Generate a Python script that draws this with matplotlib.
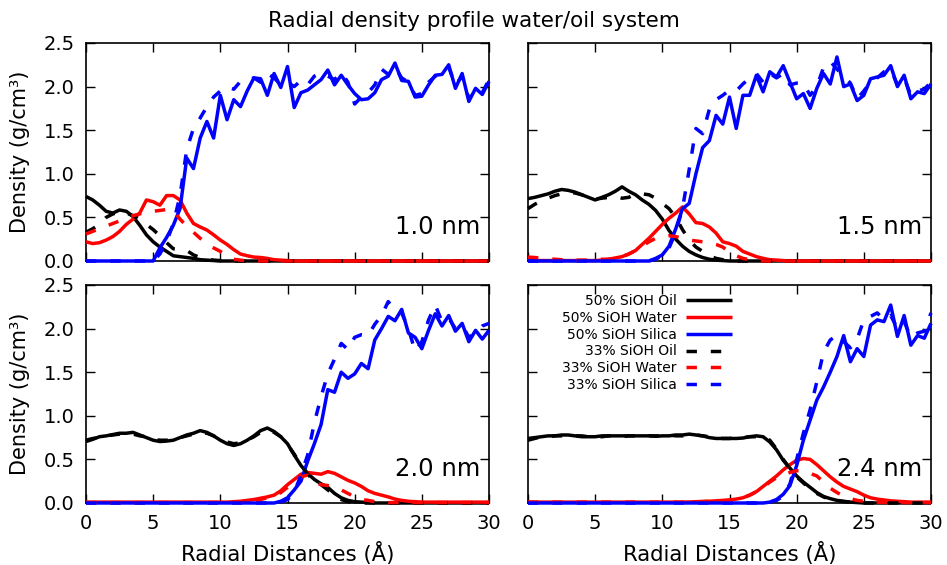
import numpy as np
import matplotlib
matplotlib.use("Agg")
import matplotlib.pyplot as plt

# Radial sampling grid (Å), 0.5 Å bins
radial = np.linspace(0.0, 30.0, 61)

# ---------------- 1.0 nm pore ----------------
oil50_10 = [0.74, 0.70, 0.64, 0.57, 0.55, 0.585, 0.57, 0.51, 0.41, 0.30,
            0.22, 0.16, 0.11, 0.06, 0.05, 0.04, 0.03, 0.015, 0.01, 0.005,
            0, 0, 0, 0, 0, 0, 0, 0, 0, 0,
            0, 0, 0, 0, 0, 0, 0, 0, 0, 0,
            0, 0, 0, 0, 0, 0, 0, 0, 0, 0,
            0, 0, 0, 0, 0, 0, 0, 0, 0, 0,
            0]
water50_10 = [0.22, 0.20, 0.21, 0.24, 0.28, 0.34, 0.42, 0.48, 0.55, 0.70,
              0.68, 0.64, 0.75, 0.75, 0.70, 0.55, 0.43, 0.39, 0.355, 0.30,
              0.24, 0.19, 0.13, 0.08, 0.06, 0.045, 0.04, 0.03, 0.015, 0.01,
              0.005, 0, 0, 0, 0, 0, 0, 0, 0, 0,
              0, 0, 0, 0, 0, 0, 0, 0, 0, 0,
              0, 0, 0, 0, 0, 0, 0, 0, 0, 0,
              0]
silica50_10 = [0, 0, 0, 0, 0, 0, 0, 0, 0, 0,
               0.0, 0.15, 0.27, 0.41, 0.60, 1.18, 1.06, 1.41, 1.60, 1.41,
               1.90, 1.62, 1.85, 1.77, 1.95, 2.10, 2.09, 1.90, 2.15, 1.99,
               2.23, 1.76, 1.93, 1.96, 2.02, 2.08, 2.19, 2.02, 2.13, 2.02,
               1.92, 1.85, 1.86, 1.93, 2.08, 2.12, 2.27, 2.07, 2.06, 1.88,
               1.89, 2.02, 2.13, 2.14, 2.25, 1.98, 2.15, 1.83, 1.98, 1.91,
               2.06]
oil33_10 = [0.33, 0.37, 0.42, 0.50, 0.54, 0.56, 0.55, 0.52, 0.47, 0.42,
            0.36, 0.29, 0.21, 0.14, 0.13, 0.12, 0.07, 0.04, 0.02, 0.01,
            0.005, 0, 0, 0, 0, 0, 0, 0, 0, 0,
            0, 0, 0, 0, 0, 0, 0, 0, 0, 0,
            0, 0, 0, 0, 0, 0, 0, 0, 0, 0,
            0, 0, 0, 0, 0, 0, 0, 0, 0, 0,
            0]
water33_10 = [0.31, 0.34, 0.37, 0.40, 0.43, 0.46, 0.50, 0.52, 0.54, 0.56,
              0.57, 0.58, 0.59, 0.58, 0.48, 0.40, 0.33, 0.26, 0.20, 0.15,
              0.11, 0.06, 0.02, 0.01, 0, 0, 0, 0, 0, 0,
              0, 0, 0, 0, 0, 0, 0, 0, 0, 0,
              0, 0, 0, 0, 0, 0, 0, 0, 0, 0,
              0, 0, 0, 0, 0, 0, 0, 0, 0, 0,
              0]
silica33_10 = [0, 0, 0, 0, 0, 0, 0, 0, 0, 0,
               0.0, 0.08, 0.22, 0.43, 0.75, 1.28, 1.52, 1.64, 1.77, 1.88,
               1.95, 2.00, 1.97, 2.06, 2.07, 2.10, 2.05, 2.15, 2.10, 2.02,
               2.05, 2.00, 2.07, 2.02, 2.12, 2.16, 2.12, 2.08, 2.16, 2.05,
               1.80, 1.88, 1.93, 2.02, 2.20, 2.14, 2.22, 2.10, 2.05, 1.90,
               1.92, 2.05, 2.12, 2.15, 2.22, 2.02, 2.12, 1.86, 1.96, 1.93,
               2.08]

# ---------------- 1.5 nm pore ----------------
oil50_15 = [0.715, 0.73, 0.75, 0.77, 0.80, 0.82, 0.81, 0.79, 0.76, 0.73,
            0.70, 0.73, 0.76, 0.80, 0.85, 0.80, 0.76, 0.70, 0.65, 0.58,
            0.48, 0.35, 0.25, 0.17, 0.11, 0.07, 0.04, 0.02, 0.01, 0.005,
            0, 0, 0, 0, 0, 0, 0, 0, 0, 0,
            0, 0, 0, 0, 0, 0, 0, 0, 0, 0,
            0, 0, 0, 0, 0, 0, 0, 0, 0, 0,
            0]
water50_15 = [0.005, 0.005, 0.005, 0.005, 0.005, 0.005, 0.005, 0.005, 0.005, 0.005,
              0.005, 0.01, 0.02, 0.035, 0.05, 0.08, 0.12, 0.19, 0.26, 0.34,
              0.42, 0.49, 0.55, 0.62, 0.54, 0.44, 0.43, 0.39, 0.32, 0.22,
              0.20, 0.17, 0.11, 0.08, 0.05, 0.03, 0.015, 0.01, 0.005, 0,
              0, 0, 0, 0, 0, 0, 0, 0, 0, 0,
              0, 0, 0, 0, 0, 0, 0, 0, 0, 0,
              0]
silica50_15 = [0, 0, 0, 0, 0, 0, 0, 0, 0, 0,
               0, 0, 0, 0, 0, 0, 0, 0, 0, 0.03,
               0.07, 0.17, 0.37, 0.60, 0.66, 1.00, 1.30, 1.38, 1.67, 1.57,
               1.88, 1.52, 1.90, 1.90, 2.13, 1.94, 2.17, 2.11, 2.24, 2.05,
               1.86, 1.92, 1.75, 1.98, 2.15, 2.03, 2.34, 2.00, 2.03, 1.84,
               1.90, 2.09, 2.11, 2.13, 2.24, 2.00, 2.13, 1.86, 1.94, 1.92,
               2.03]
oil33_15 = [0.60, 0.65, 0.69, 0.72, 0.75, 0.77, 0.78, 0.78, 0.76, 0.73,
            0.71, 0.72, 0.73, 0.74, 0.72, 0.73, 0.77, 0.77, 0.76, 0.72,
            0.66, 0.60, 0.50, 0.36, 0.24, 0.16, 0.11, 0.06, 0.03, 0.015,
            0.005, 0, 0, 0, 0, 0, 0, 0, 0, 0,
            0, 0, 0, 0, 0, 0, 0, 0, 0, 0,
            0, 0, 0, 0, 0, 0, 0, 0, 0, 0,
            0]
water33_15 = [0.045, 0.04, 0.03, 0.025, 0.02, 0.015, 0.01, 0.01, 0.01, 0.01,
              0.015, 0.02, 0.02, 0.03, 0.05, 0.08, 0.12, 0.17, 0.22, 0.26,
              0.28, 0.29, 0.28, 0.26, 0.24, 0.23, 0.22, 0.21, 0.19, 0.16,
              0.10, 0.06, 0.03, 0.015, 0.005, 0, 0, 0, 0, 0,
              0, 0, 0, 0, 0, 0, 0, 0, 0, 0,
              0, 0, 0, 0, 0, 0, 0, 0, 0, 0,
              0]
silica33_15 = [0, 0, 0, 0, 0, 0, 0, 0, 0, 0,
               0, 0, 0, 0, 0, 0, 0, 0, 0, 0.02,
               0.06, 0.15, 0.33, 0.60, 1.05, 1.52, 1.46, 1.74, 1.85, 1.90,
               1.96, 1.95, 2.03, 2.10, 2.15, 2.05, 2.15, 2.10, 2.15, 2.02,
               2.04, 2.04, 1.90, 2.00, 2.22, 2.29, 2.20, 2.12, 2.04, 1.86,
               1.95, 2.05, 2.10, 2.17, 2.20, 2.02, 2.10, 1.90, 1.95, 1.97,
               2.05]

# ---------------- 2.0 nm pore ----------------
oil50_20 = [0.705, 0.73, 0.76, 0.77, 0.785, 0.80, 0.80, 0.81, 0.78, 0.75,
            0.72, 0.705, 0.71, 0.72, 0.75, 0.78, 0.80, 0.83, 0.81, 0.77,
            0.72, 0.68, 0.66, 0.68, 0.72, 0.77, 0.83, 0.86, 0.82, 0.76,
            0.68, 0.55, 0.43, 0.34, 0.27, 0.22, 0.18, 0.11, 0.06, 0.03,
            0.015, 0.01, 0.005, 0, 0, 0, 0, 0, 0, 0,
            0, 0, 0, 0, 0, 0, 0, 0, 0, 0,
            0]
water50_20 = [0.01, 0.01, 0.01, 0.01, 0.01, 0.01, 0.01, 0.01, 0.01, 0.01,
              0.01, 0.01, 0.01, 0.01, 0.01, 0.01, 0.01, 0.01, 0.01, 0.01,
              0.01, 0.01, 0.015, 0.02, 0.03, 0.04, 0.055, 0.07, 0.09, 0.14,
              0.21, 0.27, 0.33, 0.35, 0.34, 0.33, 0.36, 0.34, 0.30, 0.26,
              0.23, 0.19, 0.14, 0.11, 0.09, 0.07, 0.045, 0.03, 0.02, 0.015,
              0.01, 0.01, 0.01, 0.01, 0.01, 0.01, 0.01, 0.01, 0.01, 0.01,
              0.01]
silica50_20 = [0, 0, 0, 0, 0, 0, 0, 0, 0, 0,
               0, 0, 0, 0, 0, 0, 0, 0, 0, 0,
               0, 0, 0, 0, 0, 0, 0, 0, 0, 0.02,
               0.06, 0.15, 0.25, 0.48, 0.68, 0.90, 1.30, 1.27, 1.50, 1.43,
               1.48, 1.60, 1.54, 1.87, 2.00, 2.14, 2.09, 2.22, 1.95, 1.90,
               1.77, 1.98, 2.17, 2.03, 2.15, 1.97, 2.06, 1.85, 1.98, 1.88,
               1.98]
oil33_20 = [0.72, 0.74, 0.75, 0.77, 0.78, 0.79, 0.79, 0.79, 0.77, 0.76,
            0.73, 0.72, 0.72, 0.73, 0.75, 0.77, 0.79, 0.81, 0.80, 0.77,
            0.73, 0.70, 0.68, 0.69, 0.72, 0.76, 0.81, 0.83, 0.81, 0.76,
            0.67, 0.56, 0.44, 0.33, 0.25, 0.21, 0.15, 0.09, 0.04, 0.015,
            0.005, 0, 0, 0, 0, 0, 0, 0, 0, 0,
            0, 0, 0, 0, 0, 0, 0, 0, 0, 0,
            0]
water33_20 = [0.005, 0.005, 0.005, 0.005, 0.005, 0.005, 0.005, 0.005, 0.005, 0.005,
              0.005, 0.005, 0.005, 0.005, 0.005, 0.005, 0.005, 0.005, 0.005, 0.005,
              0.005, 0.005, 0.005, 0.01, 0.02, 0.03, 0.04, 0.06, 0.08, 0.12,
              0.18, 0.25, 0.30, 0.32, 0.24, 0.21, 0.20, 0.18, 0.15, 0.11,
              0.07, 0.04, 0.03, 0.015, 0.01, 0.005, 0.005, 0.005, 0.005, 0.005,
              0.005, 0.005, 0.005, 0.005, 0.005, 0.005, 0.005, 0.005, 0.005, 0.005,
              0.005]
silica33_20 = [0, 0, 0, 0, 0, 0, 0, 0, 0, 0,
               0, 0, 0, 0, 0, 0, 0, 0, 0, 0,
               0, 0, 0, 0, 0, 0, 0, 0, 0, 0.01,
               0.04, 0.12, 0.32, 0.55, 0.92, 1.22, 1.48, 1.65, 1.83, 1.76,
               1.90, 1.93, 1.92, 2.05, 2.15, 2.31, 2.20, 2.18, 2.00, 1.74,
               1.85, 2.10, 2.27, 2.08, 2.12, 2.00, 2.04, 1.90, 1.96, 2.03,
               2.06]

# ---------------- 2.4 nm pore ----------------
oil50_24 = [0.74, 0.75, 0.76, 0.77, 0.77, 0.78, 0.78, 0.77, 0.76, 0.76,
            0.76, 0.77, 0.77, 0.77, 0.77, 0.77, 0.77, 0.77, 0.77, 0.765,
            0.77, 0.77, 0.78, 0.78, 0.79, 0.78, 0.77, 0.75, 0.74, 0.74,
            0.74, 0.74, 0.745, 0.76, 0.77, 0.76, 0.70, 0.61, 0.49, 0.40,
            0.31, 0.24, 0.18, 0.12, 0.075, 0.05, 0.03, 0.02, 0.01, 0.005,
            0, 0, 0, 0, 0, 0, 0, 0, 0, 0,
            0]
water50_24 = [0.01, 0.01, 0.01, 0.01, 0.01, 0.01, 0.01, 0.01, 0.01, 0.01,
              0.01, 0.01, 0.01, 0.01, 0.01, 0.01, 0.01, 0.01, 0.01, 0.01,
              0.01, 0.01, 0.01, 0.01, 0.012, 0.015, 0.018, 0.02, 0.025, 0.03,
              0.035, 0.045, 0.06, 0.09, 0.13, 0.19, 0.25, 0.31, 0.38, 0.44,
              0.49, 0.51, 0.50, 0.44, 0.37, 0.30, 0.24, 0.19, 0.16, 0.13,
              0.09, 0.06, 0.045, 0.035, 0.025, 0.02, 0.015, 0.01, 0.01, 0.01,
              0.01]
silica50_24 = [0, 0, 0, 0, 0, 0, 0, 0, 0, 0,
               0, 0, 0, 0, 0, 0, 0, 0, 0, 0,
               0, 0, 0, 0, 0, 0, 0, 0, 0, 0,
               0, 0, 0, 0, 0, 0, 0.01, 0.04, 0.10, 0.20,
               0.43, 0.72, 0.95, 1.18, 1.33, 1.50, 1.68, 1.92, 1.62, 1.77,
               1.68, 2.04, 2.10, 2.08, 2.27, 1.91, 2.15, 1.81, 1.92, 1.89,
               2.06]
oil33_24 = [0.72, 0.74, 0.76, 0.76, 0.77, 0.77, 0.77, 0.77, 0.77, 0.76,
            0.76, 0.76, 0.77, 0.77, 0.76, 0.77, 0.77, 0.76, 0.77, 0.77,
            0.77, 0.78, 0.77, 0.77, 0.78, 0.78, 0.77, 0.76, 0.75, 0.74,
            0.74, 0.75, 0.75, 0.76, 0.76, 0.77, 0.72, 0.62, 0.50, 0.39,
            0.30, 0.23, 0.16, 0.11, 0.07, 0.04, 0.025, 0.015, 0.01, 0.005,
            0, 0, 0, 0, 0, 0, 0, 0, 0, 0,
            0]
water33_24 = [0.01, 0.01, 0.01, 0.01, 0.01, 0.01, 0.01, 0.01, 0.01, 0.01,
              0.01, 0.01, 0.01, 0.01, 0.01, 0.01, 0.01, 0.01, 0.01, 0.01,
              0.01, 0.01, 0.01, 0.01, 0.01, 0.015, 0.015, 0.02, 0.02, 0.025,
              0.03, 0.04, 0.06, 0.09, 0.13, 0.18, 0.24, 0.29, 0.32, 0.35,
              0.37, 0.37, 0.34, 0.31, 0.24, 0.17, 0.12, 0.08, 0.05, 0.03,
              0.02, 0.015, 0.01, 0.005, 0.005, 0.005, 0.005, 0.005, 0.005, 0.005,
              0.005]
silica33_24 = [0, 0, 0, 0, 0, 0, 0, 0, 0, 0,
               0, 0, 0, 0, 0, 0, 0, 0, 0, 0,
               0, 0, 0, 0, 0, 0, 0, 0, 0, 0,
               0, 0, 0, 0, 0, 0, 0.01, 0.03, 0.08, 0.22,
               0.50, 0.80, 1.07, 1.39, 1.73, 1.87, 1.92, 1.85, 1.78, 1.88,
               2.10, 2.14, 2.18, 2.10, 2.15, 2.00, 2.08, 1.90, 1.95, 1.97,
               2.18]

pore_labels = ["1.0 nm", "1.5 nm", "2.0 nm", "2.4 nm"]
series_labels = ["50% SiOH Oil", "50% SiOH Water", "50% SiOH Silica",
                 "33% SiOH Oil", "33% SiOH Water", "33% SiOH Silica"]
series_colors = ["black", "red", "blue", "black", "red", "blue"]

panel_data = [
    [oil50_10, water50_10, silica50_10, oil33_10, water33_10, silica33_10],
    [oil50_15, water50_15, silica50_15, oil33_15, water33_15, silica33_15],
    [oil50_20, water50_20, silica50_20, oil33_20, water33_20, silica33_20],
    [oil50_24, water50_24, silica50_24, oil33_24, water33_24, silica33_24],
]

W, H = 947, 565
fig = plt.figure(figsize=(W / 100, H / 100), dpi=100)

# axes boxes in pixels: (left, top, right, bottom)
boxes = [(86, 43, 489, 261), (528, 43, 931, 261),
         (86, 285, 489, 503), (528, 285, 931, 503)]

axes = []
for k, (l, t, r, b) in enumerate(boxes):
    ax = fig.add_axes([l / W, 1 - b / H, (r - l) / W, (b - t) / H])
    axes.append(ax)
    for j, ys in enumerate(panel_data[k]):
        ls = "-" if j < 3 else (0, (3.0, 4.0))
        ax.plot(radial, ys, color=series_colors[j], lw=2.5, ls=ls,
                solid_capstyle="butt", dash_capstyle="butt",
                label=series_labels[j], clip_on=False, zorder=3)
    ax.set_xlim(0, 30)
    ax.set_ylim(0, 2.5)
    ax.set_xticks(np.arange(0, 31, 5))
    ax.set_yticks(np.arange(0, 2.51, 0.5))
    ax.yaxis.set_major_formatter(matplotlib.ticker.FormatStrFormatter("%.1f"))
    ax.tick_params(direction="in", length=6.5, width=1.0, top=True, right=True,
                   labelsize=14, pad=8)
    for sp in ax.spines.values():
        sp.set_linewidth(1.2)
    if k < 2:
        ax.tick_params(labelbottom=False)
    if k % 2 == 1:
        ax.tick_params(labelleft=False)
    ax.text(0.978, 0.125, pore_labels[k], transform=ax.transAxes,
            ha="right", va="baseline", fontsize=17.5)

axes[3].legend(loc="upper right", bbox_to_anchor=(0.507, 0.958),
               frameon=False, markerfirst=False, fontsize=10,
               handlelength=3.3, handletextpad=0.7, labelspacing=0.2,
               borderpad=0, borderaxespad=0)

fig.text(473.5 / W, 1 - 21 / H, "Radial density profile water/oil system",
         ha="center", va="center", fontsize=15.5)
for t, b in [(43, 261), (285, 503)]:
    fig.text(20 / W, 1 - (t + b) / 2 / H, "Density (g/cm³)", rotation=90,
             ha="center", va="center", fontsize=15)
for l, r in [(86, 489), (528, 931)]:
    fig.text((l + r) / 2 / W, 1 - 553 / H, "Radial Distances (Å)",
             ha="center", va="center", fontsize=15.3)

fig.savefig("out.png", dpi=100)
